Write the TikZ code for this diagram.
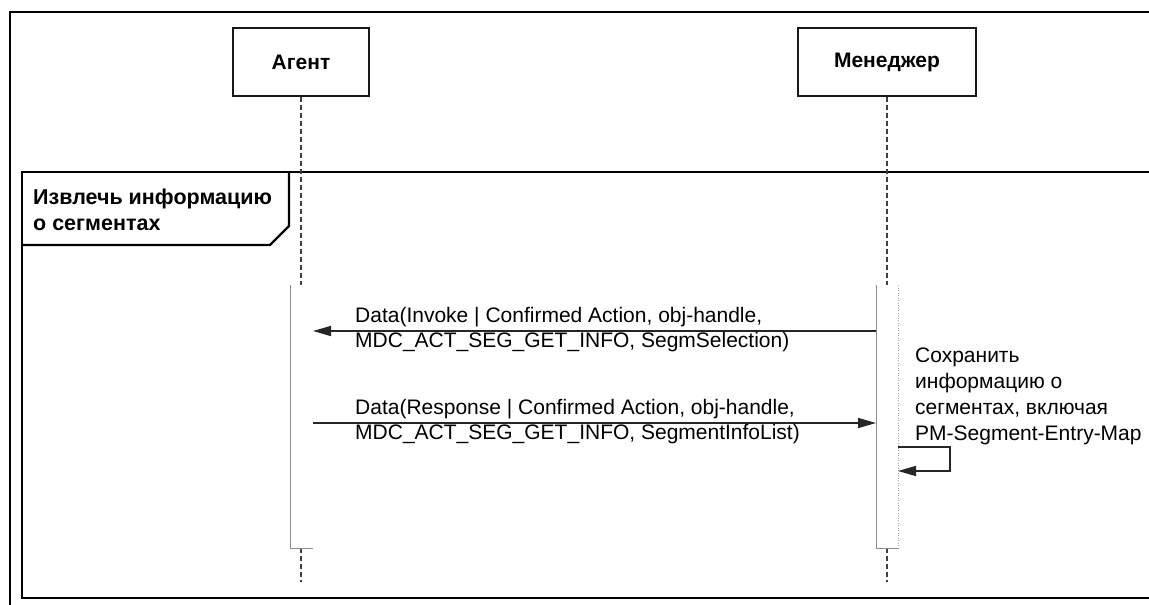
\documentclass[tikz,border=0pt]{standalone}
\usepackage{fontspec}
\setmainfont{Liberation Sans}
\usetikzlibrary{arrows.meta}
\tikzset{
  actorbox/.style={draw=black!90, line width=1.6pt, minimum height=68pt, inner sep=0pt, font=\fontsize{21}{25}\selectfont\bfseries},
  lifeline/.style={draw=black!75, line width=1.2pt, dash pattern=on 5pt off 3pt},
  actbar/.style={draw=black!45, line width=1pt},
  actbardot/.style={draw=black!35, line width=0.8pt, dash pattern=on 1pt off 1.5pt},
  msg/.style={draw=black!85, line width=1.6pt, -{Triangle[length=18pt,width=10pt]}},
  msgtext/.style={align=left, inner sep=0pt, font=\fontsize{21}{25}\selectfont},
  frameline/.style={draw=black, line width=2.2pt},
}
\begin{document}
\begin{tikzpicture}[x=1pt,y=-1pt]
\fill[white] (0,0) rectangle (1149,605);
\clip (0,0) rectangle (1149,605);
\useasboundingbox (0,0) rectangle (1149,605);
% outer frame
\draw[frameline, line width=2pt] (10,12) rectangle (1200,660);
% fragment frame
\draw[frameline] (22,172) rectangle (1200,598);
\draw[frameline, line join=miter] (22,245) -- (270,245) -- (289,226) -- (289,172);
\node[anchor=north west, inner sep=0pt, align=left, font=\fontsize{21.5}{26}\selectfont\bfseries] (frag) at (33,189) {Извлечь информацию\\о сегментах};
% actors
\node[actorbox, minimum width=136pt] (agent) at (301,62) {Агент};
\node[actorbox, minimum width=178pt] (mgr) at (887,62) {Менеджер};
% coordinates
\coordinate (aTop) at (301,285);
\coordinate (aBot) at (301,548);
\coordinate (aEnd) at (301,582);
\coordinate (mTop) at (887,285);
\coordinate (mBot) at (887,548);
\coordinate (mEnd) at (887,582);
% lifelines
\draw[lifeline] (agent.south) -- (aTop);
\draw[lifeline] (mgr.south) -- (mTop);
\draw[lifeline] (aBot) -- (aEnd);
\draw[lifeline] (mBot) -- (mEnd);
% activation bars
\coordinate (aBL) at (290,285);
\coordinate (aBR) at (313,548);
\draw[actbar] (aBL) |- (aBR);
\coordinate (mBL) at (876,285);
\coordinate (mBR) at (898,548);
\draw[actbar] (mBL) |- (mBR);
\draw[actbardot] (898,285) -- (mBR);
% messages
\coordinate (m1s) at (876,331);
\coordinate (m1e) at (313,331);
\draw[msg] (m1s) -- (m1e);
\node[msgtext, anchor=west] (t1) at (355,330) {Data(Invoke | Confirmed Action, obj-handle,\\MDC\_ACT\_SEG\_GET\_INFO, SegmSelection)};
\coordinate (m2s) at (313,423);
\coordinate (m2e) at (876,423);
\draw[msg] (m2s) -- (m2e);
\node[msgtext, anchor=west] (t2) at (355,422) {Data(Response | Confirmed Action, obj-handle,\\MDC\_ACT\_SEG\_GET\_INFO, SegmentInfoList)};
% self message
\coordinate (s1) at (898,447);
\coordinate (s2) at (950,447);
\coordinate (s3) at (950,471);
\coordinate (s4) at (898,471);
\draw[msg, line join=miter] (s1) -- (s2) -- (s3) -- (s4);
\node[msgtext, anchor=north west, font=\fontsize{21}{26}\selectfont] (t3) at (915,348) {Сохранить\\информацию о\\сегментах, включая\\PM-Segment-Entry-Map};
\end{tikzpicture}
\end{document}
